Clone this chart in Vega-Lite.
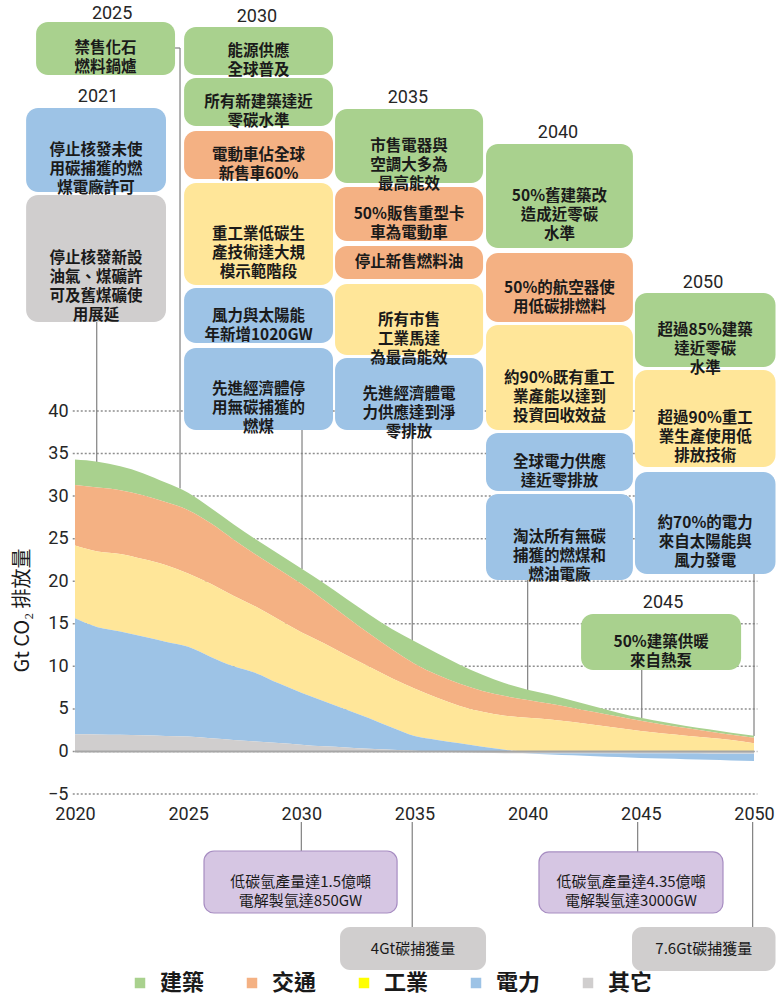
{
  "$schema": "https://vega.github.io/schema/vega-lite/v6.json",
  "width": 679,
  "height": 383,
  "autosize": {"type": "none"},
  "padding": {"left": 75, "top": 411, "right": 22, "bottom": 205},
  "background": "white",
  "config": {
    "view": {"stroke": null},
    "font": "Roboto"
  },
  "resolve": {"axis": {"x": "independent", "y": "independent"}},
  "datasets": {
    "emissions": [
      {"year": 2020, "建築": 3.0, "交通": 7.1, "工業": 8.55, "電力": 13.62, "其它": 2.03},
      {"year": 2021, "建築": 3.05, "交通": 7.5, "工業": 8.9, "電力": 12.6, "其它": 2.0},
      {"year": 2022, "建築": 2.8, "交通": 7.5, "工業": 9.1, "電力": 12.15, "其它": 1.95},
      {"year": 2023, "建築": 2.6, "交通": 7.5, "工業": 9.1, "電力": 11.6, "其它": 1.9},
      {"year": 2024, "建築": 2.3, "交通": 7.4, "工業": 9.0, "電力": 11.08, "其它": 1.82},
      {"year": 2025, "建築": 2.05, "交通": 7.45, "工業": 8.6, "電力": 10.55, "其它": 1.75},
      {"year": 2026, "建築": 1.8, "交通": 7.1, "工業": 8.6, "電力": 9.55, "其它": 1.55},
      {"year": 2027, "建築": 1.8, "交通": 6.6, "工業": 8.3, "電力": 8.65, "其它": 1.35},
      {"year": 2028, "建築": 1.8, "交通": 6.1, "工業": 7.8, "電力": 8.03, "其它": 1.17},
      {"year": 2029, "建築": 1.8, "交通": 5.9, "工業": 7.5, "電力": 7.02, "其它": 0.98},
      {"year": 2030, "建築": 1.8, "交通": 5.7, "工業": 7.1, "電力": 6.1, "其它": 0.8},
      {"year": 2031, "建築": 1.95, "交通": 5.1, "工業": 6.8, "電力": 5.3, "其它": 0.6},
      {"year": 2032, "建築": 2.1, "交通": 4.5, "工業": 6.4, "電力": 4.43, "其它": 0.47},
      {"year": 2033, "建築": 2.25, "交通": 3.9, "工業": 6.05, "電力": 3.59, "其它": 0.31},
      {"year": 2034, "建築": 2.4, "交通": 3.4, "工業": 5.8, "電力": 2.6, "其它": 0.2},
      {"year": 2035, "建築": 2.65, "交通": 2.9, "工業": 5.6, "電力": 1.72, "其它": 0.08},
      {"year": 2036, "建築": 2.55, "交通": 2.7, "工業": 4.95, "電力": 1.35, "其它": -0.05},
      {"year": 2037, "建築": 2.25, "交通": 2.6, "工業": 4.4, "電力": 0.95, "其它": -0.1},
      {"year": 2038, "建築": 1.9, "交通": 2.45, "工業": 4.1, "電力": 0.55, "其它": -0.15},
      {"year": 2039, "建築": 1.5, "交通": 2.3, "工業": 4.0, "電力": 0.2, "其它": -0.2},
      {"year": 2040, "建築": 1.2, "交通": 2.1, "工業": 3.95, "電力": -0.05, "其它": -0.2},
      {"year": 2041, "建築": 1.05, "交通": 1.85, "工業": 3.75, "電力": -0.15, "其它": -0.2},
      {"year": 2042, "建築": 0.85, "交通": 1.65, "工業": 3.45, "電力": -0.25, "其它": -0.2},
      {"year": 2043, "建築": 0.65, "交通": 1.5, "工業": 3.1, "電力": -0.35, "其它": -0.2},
      {"year": 2044, "建築": 0.45, "交通": 1.35, "工業": 2.75, "電力": -0.45, "其它": -0.21},
      {"year": 2045, "建築": 0.35, "交通": 1.2, "工業": 2.4, "電力": -0.55, "其它": -0.21},
      {"year": 2046, "建築": 0.3, "交通": 1.05, "工業": 2.1, "電力": -0.62, "其它": -0.22},
      {"year": 2047, "建築": 0.25, "交通": 0.9, "工業": 1.85, "電力": -0.7, "其它": -0.22},
      {"year": 2048, "建築": 0.25, "交通": 0.75, "工業": 1.6, "電力": -0.76, "其它": -0.23},
      {"year": 2049, "建築": 0.25, "交通": 0.6, "工業": 1.35, "電力": -0.82, "其它": -0.24},
      {"year": 2050, "建築": 0.25, "交通": 0.65, "工業": 0.95, "電力": -0.88, "其它": -0.25}
    ],
    "boxes": [
      {"x": 2018.28, "x2": 2024.42, "y": 85.71, "y2": 79.48, "cat": "建築", "label": "禁售化石\n燃料鍋爐"},
      {"x": 2017.84, "x2": 2024.02, "y": 75.6, "y2": 65.73, "cat": "電力", "label": "停止核發未使\n用碳捕獲的燃\n煤電廠許可"},
      {"x": 2017.84, "x2": 2024.02, "y": 65.38, "y2": 50.46, "cat": "其它", "label": "停止核發新設\n油氣、煤礦許\n可及舊煤礦使\n用展延"},
      {"x": 2024.82, "x2": 2031.4, "y": 85.12, "y2": 79.48, "cat": "建築", "label": "能源供應\n全球普及"},
      {"x": 2024.82, "x2": 2031.4, "y": 79.13, "y2": 73.49, "cat": "建築", "label": "所有新建築達近\n零碳水準"},
      {"x": 2024.82, "x2": 2031.4, "y": 72.9, "y2": 67.26, "cat": "交通", "label": "電動車佔全球\n新售車60%"},
      {"x": 2024.82, "x2": 2031.4, "y": 66.79, "y2": 54.8, "cat": "工業", "label": "重工業低碳生\n產技術達大規\n模示範階段"},
      {"x": 2024.82, "x2": 2031.4, "y": 54.45, "y2": 47.99, "cat": "電力", "label": "風力與太陽能\n年新增1020GW"},
      {"x": 2024.82, "x2": 2031.4, "y": 47.4, "y2": 37.77, "cat": "電力", "label": "先進經濟體停\n用無碳捕獲的\n燃煤"},
      {"x": 2031.49, "x2": 2038.03, "y": 75.48, "y2": 66.79, "cat": "建築", "label": "市售電器與\n空調大多為\n最高能效"},
      {"x": 2031.49, "x2": 2038.03, "y": 66.32, "y2": 59.97, "cat": "交通", "label": "50%販售重型卡\n車為電動車"},
      {"x": 2031.49, "x2": 2038.03, "y": 59.39, "y2": 55.51, "cat": "交通", "label": "停止新售燃料油"},
      {"x": 2031.49, "x2": 2038.03, "y": 54.92, "y2": 46.58, "cat": "工業", "label": "所有市售\n工業馬達\n為最高能效"},
      {"x": 2031.49, "x2": 2038.03, "y": 46.23, "y2": 37.77, "cat": "電力", "label": "先進經濟體電\n力供應達到淨\n零排放"},
      {"x": 2038.16, "x2": 2044.65, "y": 71.37, "y2": 59.15, "cat": "建築", "label": "50%舊建築改\n造成近零碳\n水準"},
      {"x": 2038.16, "x2": 2044.65, "y": 58.56, "y2": 50.46, "cat": "交通", "label": "50%的航空器使\n用低碳排燃料"},
      {"x": 2038.16, "x2": 2044.65, "y": 50.1, "y2": 37.77, "cat": "工業", "label": "約90%既有重工\n業產能以達到\n投資回收效益"},
      {"x": 2038.16, "x2": 2044.65, "y": 37.42, "y2": 30.6, "cat": "電力", "label": "全球電力供應\n達近零排放"},
      {"x": 2038.16, "x2": 2044.65, "y": 30.25, "y2": 20.14, "cat": "電力", "label": "淘汰所有無碳\n捕獲的燃煤和\n燃油電廠"},
      {"x": 2044.74, "x2": 2050.95, "y": 53.86, "y2": 45.17, "cat": "建築", "label": "超過85%建築\n達近零碳\n水準"},
      {"x": 2044.74, "x2": 2050.95, "y": 44.82, "y2": 33.42, "cat": "工業", "label": "超過90%重工\n業生產使用低\n排放技術"},
      {"x": 2044.74, "x2": 2050.95, "y": 32.83, "y2": 20.85, "cat": "電力", "label": "約70%的電力\n來自太陽能與\n風力發電"},
      {"x": 2042.36, "x2": 2049.43, "y": 16.15, "y2": 9.57, "cat": "建築", "label": "50%建築供暖\n來自熱泵"}
    ],
    "bottomboxes": [
      {"x": 2025.7, "x2": 2034.23, "y": -11.7, "y2": -18.98, "cat": "氫能", "label": "低碳氫產量達1.5億噸\n電解製氫達850GW"},
      {"x": 2031.71, "x2": 2038.16, "y": -20.63, "y2": -25.68, "cat": "其它", "label": "4Gt碳捕獲量"},
      {"x": 2040.5, "x2": 2048.63, "y": -11.81, "y2": -18.98, "cat": "氫能", "label": "低碳氫產量達4.35億噸\n電解製氫達3000GW"},
      {"x": 2044.61, "x2": 2050.95, "y": -20.63, "y2": -25.8, "cat": "其它", "label": "7.6Gt碳捕獲量"}
    ],
    "years": [
      {"x": 2021.64, "y": 86.65, "label": "2025"},
      {"x": 2021.02, "y": 76.89, "label": "2021"},
      {"x": 2028.04, "y": 86.29, "label": "2030"},
      {"x": 2034.71, "y": 76.78, "label": "2035"},
      {"x": 2041.34, "y": 72.66, "label": "2040"},
      {"x": 2047.75, "y": 55.04, "label": "2050"},
      {"x": 2045.98, "y": 17.44, "label": "2045"}
    ],
    "leaders": [
      {"x": 2020.96, "y": 50.46, "y2": 34.0},
      {"x": 2024.64, "y": 82.65, "y2": 30.9},
      {"x": 2030.03, "y": 37.77, "y2": 21.4},
      {"x": 2034.9, "y": 37.77, "y2": 12.9},
      {"x": 2040.0, "y": 20.14, "y2": 7.2},
      {"x": 2045.04, "y": 9.57, "y2": 3.9},
      {"x": 2050.0, "y": 20.85, "y2": 1.8},
      {"x": 2030.0, "y": -8.3, "y2": -11.7},
      {"x": 2034.9, "y": -8.3, "y2": -20.63},
      {"x": 2044.86, "y": -8.3, "y2": -11.81},
      {"x": 2049.94, "y": -8.3, "y2": -20.63}
    ],
    "connectors": [
      {"x": 2024.42, "x2": 2024.64, "y": 82.65}
    ],
    "gridlines": [
      {"gx": 2019.9, "gx2": 2050.15, "v": -5},
      {"gx": 2019.9, "gx2": 2050.15, "v": 0},
      {"gx": 2019.9, "gx2": 2050.15, "v": 5},
      {"gx": 2019.9, "gx2": 2050.15, "v": 10},
      {"gx": 2019.9, "gx2": 2050.15, "v": 15},
      {"gx": 2019.9, "gx2": 2050.15, "v": 20},
      {"gx": 2019.9, "gx2": 2050.15, "v": 25},
      {"gx": 2019.9, "gx2": 2050.15, "v": 30},
      {"gx": 2019.9, "gx2": 2050.15, "v": 35},
      {"gx": 2019.9, "gx2": 2050.15, "v": 40}
    ],
    "baseline": [
      {"gx": 2020, "gx2": 2050, "v": 0}
    ],
    "sectors": [
      {"sector": "建築"},
      {"sector": "交通"},
      {"sector": "工業"},
      {"sector": "電力"},
      {"sector": "其它"}
    ]
  },
  "layer": [
    {
      "data": {"name": "gridlines"},
      "mark": {"type": "rule", "color": "#8F8F8F", "strokeWidth": 1.5, "strokeDash": [2, 2], "opacity": 1},
      "encoding": {
        "x": {"field": "gx", "type": "quantitative", "scale": {"domain": [2020, 2050], "nice": false, "zero": false}, "axis": null},
        "x2": {"field": "gx2"},
        "y": {"field": "v", "type": "quantitative", "scale": {"domain": [-5, 40], "nice": false, "zero": false}, "axis": null}
      }
    },
    {
      "data": {"name": "leaders"},
      "mark": {"type": "rule", "color": "#808080", "strokeWidth": 1.2},
      "encoding": {
        "x": {"field": "x", "type": "quantitative", "scale": {"domain": [2020, 2050], "nice": false, "zero": false}, "axis": null},
        "y": {"field": "y", "type": "quantitative", "scale": {"domain": [-5, 40], "nice": false, "zero": false}, "axis": null},
        "y2": {"field": "y2"}
      }
    },
    {
      "data": {"name": "connectors"},
      "mark": {"type": "rule", "color": "#808080", "strokeWidth": 1.2},
      "encoding": {
        "x": {"field": "x", "type": "quantitative", "scale": {"domain": [2020, 2050], "nice": false, "zero": false}, "axis": null},
        "x2": {"field": "x2"},
        "y": {"field": "y", "type": "quantitative", "scale": {"domain": [-5, 40], "nice": false, "zero": false}, "axis": null}
      }
    },
    {
      "data": {"name": "emissions"},
      "transform": [
        {"fold": ["建築", "交通", "工業", "電力", "其它"], "as": ["sector", "value"]},
        {"lookup": "sector", "from": {"data": {"values": [
          {"sector": "其它", "rank": 1},
          {"sector": "電力", "rank": 2},
          {"sector": "工業", "rank": 3},
          {"sector": "交通", "rank": 4},
          {"sector": "建築", "rank": 5}
        ]}, "key": "sector", "fields": ["rank"]}}
      ],
      "mark": {"type": "area", "interpolate": "monotone"},
      "encoding": {
        "x": {
          "field": "year", "type": "quantitative",
          "scale": {"domain": [2020, 2050], "nice": false, "zero": false},
          "axis": {
            "values": [2020, 2025, 2030, 2035, 2040, 2045, 2050],
            "format": "d", "title": null, "grid": false, "domain": false, "ticks": false,
            "labelFont": "Roboto", "labelFontSize": 18, "labelColor": "#262626", "labelPadding": 11,
            "labelFlush": false, "labelOverlap": false
          }
        },
        "y": {
          "field": "value", "type": "quantitative", "stack": "zero",
          "scale": {"domain": [-5, 40], "nice": false, "zero": false},
          "axis": {
            "values": [-5, 0, 5, 10, 15, 20, 25, 30, 35, 40],
            "title": "Gt CO₂ 排放量", "titleFont": "Noto Sans CJK TC", "titleFontSize": 20, "titleFontWeight": "normal",
            "titleColor": "#1a1a1a", "titleX": -53, "titleY": 199, "titleAlign": "center", "titleBaseline": "middle", "titleAngle": -90,
            "grid": false,
            "domain": false, "ticks": false,
            "labelFont": "Roboto", "labelFontSize": 18, "labelColor": "#262626", "labelPadding": 7,
            "labelFlush": false, "labelOverlap": false
          }
        },
        "color": {
          "field": "sector", "type": "nominal",
          "scale": {
            "domain": ["建築", "交通", "工業", "電力", "其它", "氫能"],
            "range": ["#A9D18E", "#F4B183", "#FFE699", "#9DC3E6", "#D0CECE", "#D6C6E3"]
          },
          "legend": null
        },
        "order": {"field": "rank", "type": "quantitative"}
      }
    },
    {
      "data": {"name": "sectors"},
      "transform": [{"filter": "false"}],
      "mark": {"type": "square", "filled": true, "opacity": 1},
      "encoding": {
        "x": {"value": 0},
        "y": {"value": 0},
        "fill": {
          "field": "sector", "type": "nominal",
          "scale": {
            "domain": ["建築", "交通", "工業", "電力", "其它"],
            "range": ["#A9D18E", "#F4B183", "#FFFF00", "#9DC3E6", "#D0CECE"]
          },
          "legend": {
            "title": null, "orient": "none", "legendX": 54, "legendY": 561, "direction": "horizontal",
            "symbolType": "square", "symbolSize": 110, "symbolStrokeWidth": 0, "symbolOpacity": 1,
            "labelFont": "Noto Sans CJK TC", "labelFontSize": 22, "labelFontWeight": "bold", "labelColor": "#1a1a1a",
            "labelOffset": 9, "columnPadding": 36
          }
        }
      }
    },
    {
      "data": {"name": "baseline"},
      "mark": {"type": "rule", "color": "#A6A6A6", "strokeWidth": 2},
      "encoding": {
        "x": {"field": "gx", "type": "quantitative", "scale": {"domain": [2020, 2050], "nice": false, "zero": false}, "axis": null},
        "x2": {"field": "gx2"},
        "y": {"field": "v", "type": "quantitative", "scale": {"domain": [-5, 40], "nice": false, "zero": false}, "axis": null}
      }
    },
    {
      "data": {"name": "boxes"},
      "mark": {"type": "rect", "cornerRadius": 12},
      "encoding": {
        "x": {"field": "x", "type": "quantitative", "scale": {"domain": [2020, 2050], "nice": false, "zero": false}, "axis": null},
        "x2": {"field": "x2"},
        "y": {"field": "y", "type": "quantitative", "scale": {"domain": [-5, 40], "nice": false, "zero": false}, "axis": null},
        "y2": {"field": "y2"},
        "color": {"field": "cat", "type": "nominal", "legend": null}
      }
    },
    {
      "data": {"name": "bottomboxes"},
      "mark": {"type": "rect", "cornerRadius": 10, "strokeWidth": 1.2},
      "encoding": {
        "x": {"field": "x", "type": "quantitative", "scale": {"domain": [2020, 2050], "nice": false, "zero": false}, "axis": null},
        "x2": {"field": "x2"},
        "y": {"field": "y", "type": "quantitative", "scale": {"domain": [-5, 40], "nice": false, "zero": false}, "axis": null},
        "y2": {"field": "y2"},
        "color": {"field": "cat", "type": "nominal", "legend": null},
        "stroke": {"condition": {"test": "datum.cat === '氫能'", "value": "#A78DC2"}, "value": "transparent"}
      }
    },
    {
      "data": {"name": "boxes"},
      "transform": [
        {"calculate": "(datum.x + datum.x2) / 2", "as": "cx"},
        {"calculate": "(datum.y + datum.y2) / 2", "as": "cy"}
      ],
      "mark": {"type": "text", "font": "Noto Sans CJK TC", "fontSize": 15.5, "fontWeight": "bold", "lineHeight": 19, "lineBreak": "\n", "align": "center", "baseline": "middle", "color": "#1a1a1a"},
      "encoding": {
        "x": {"field": "cx", "type": "quantitative", "scale": {"domain": [2020, 2050], "nice": false, "zero": false}, "axis": null},
        "y": {"field": "cy", "type": "quantitative", "scale": {"domain": [-5, 40], "nice": false, "zero": false}, "axis": null},
        "text": {"field": "label"}
      }
    },
    {
      "data": {"name": "bottomboxes"},
      "transform": [
        {"calculate": "(datum.x + datum.x2) / 2", "as": "cx"},
        {"calculate": "(datum.y + datum.y2) / 2", "as": "cy"}
      ],
      "mark": {"type": "text", "font": "Noto Sans CJK TC", "fontSize": 15, "fontWeight": "normal", "lineHeight": 19, "lineBreak": "\n", "align": "center", "baseline": "middle", "color": "#1a1a1a"},
      "encoding": {
        "x": {"field": "cx", "type": "quantitative", "scale": {"domain": [2020, 2050], "nice": false, "zero": false}, "axis": null},
        "y": {"field": "cy", "type": "quantitative", "scale": {"domain": [-5, 40], "nice": false, "zero": false}, "axis": null},
        "text": {"field": "label"}
      }
    },
    {
      "data": {"name": "years"},
      "mark": {"type": "text", "font": "Roboto", "fontSize": 18, "align": "center", "baseline": "middle", "color": "#262626"},
      "encoding": {
        "x": {"field": "x", "type": "quantitative", "scale": {"domain": [2020, 2050], "nice": false, "zero": false}, "axis": null},
        "y": {"field": "y", "type": "quantitative", "scale": {"domain": [-5, 40], "nice": false, "zero": false}, "axis": null},
        "text": {"field": "label"}
      }
    }
  ]
}
